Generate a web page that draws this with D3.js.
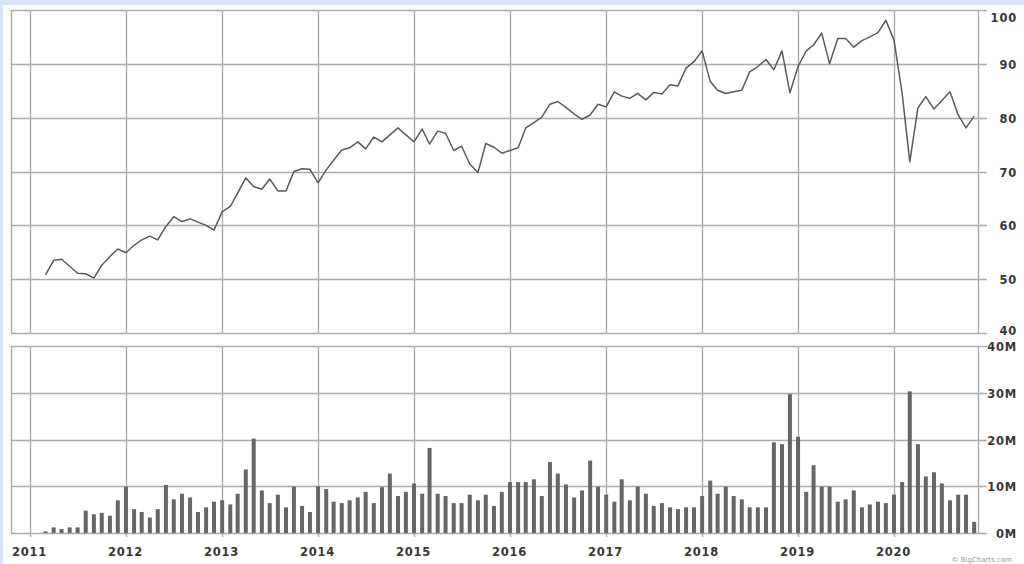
<!DOCTYPE html>
<html>
<head>
<meta charset="utf-8">
<script src="https://cdn.jsdelivr.net/npm/d3@7"></script>
<style>
  html, body { margin: 0; padding: 0; background: #ffffff; }
  svg { display: block; }
  text { font-family: "DejaVu Sans", Verdana, sans-serif; }
</style>
</head>
<body>
<svg id="chart" width="1024" height="564"></svg>
<script>
// ---------- DATA ----------
const startYear = 2011, startMonth = 2; // March 2011 (0-based month)
const priceValues = [
  // 2011 Mar-Dec
  50.8, 53.5, 53.7, 52.4, 51.1, 51.0, 50.2, 52.6, 54.2, 55.6,
  // 2012
  54.9, 56.3, 57.3, 58.0, 57.3, 59.8, 61.6, 60.7, 61.2, 60.6, 60.0, 59.1,
  // 2013
  62.5, 63.5, 66.0, 68.8, 67.2, 66.7, 68.6, 66.4, 66.4, 70.0, 70.5, 70.4,
  // 2014
  67.9, 70.3, 72.1, 74.0, 74.4, 75.5, 74.2, 76.4, 75.5, 76.8, 78.1, 76.8,
  // 2015
  75.5, 77.9, 75.1, 77.5, 77.1, 73.9, 74.7, 71.4, 69.8, 75.2, 74.5, 73.4,
  // 2016
  73.9, 74.4, 78.1, 79.1, 80.1, 82.5, 83.0, 81.9, 80.7, 79.7, 80.5, 82.5,
  // 2017
  82.0, 84.8, 84.0, 83.6, 84.5, 83.3, 84.7, 84.4, 86.1, 85.9, 89.2, 90.4,
  // 2018
  92.4, 86.7, 85.1, 84.5, 84.8, 85.1, 88.5, 89.5, 90.8, 88.9, 92.4, 84.6,
  // 2019
  89.5, 92.4, 93.5, 95.7, 90.0, 94.7, 94.7, 93.1, 94.3, 95.0, 95.8, 98.1,
  // 2020 Jan-Nov
  94.4, 84.5, 71.8, 81.8, 83.9, 81.6, 83.2, 84.8, 80.5, 78.1, 80.3
];
const volumeValues = [ // millions
  // 2011 Mar-Dec
  0.35, 1.2, 0.85, 1.2, 1.2, 4.8, 4.0, 4.3, 3.7, 7.0,
  // 2012
  9.9, 5.1, 4.5, 3.3, 5.1, 10.3, 7.2, 8.4, 7.6, 4.5, 5.5, 6.7,
  // 2013
  7.0, 6.1, 8.4, 13.6, 20.2, 9.1, 6.4, 8.2, 5.5, 9.9, 5.8, 4.5,
  // 2014
  10.0, 9.4, 6.7, 6.4, 7.0, 7.6, 8.8, 6.4, 9.8, 12.7, 7.9, 8.8,
  // 2015
  10.6, 8.4, 18.2, 8.4, 7.9, 6.4, 6.4, 8.2, 7.0, 8.2, 5.8, 8.8,
  // 2016
  10.9, 10.9, 10.9, 11.5, 7.9, 15.2, 12.7, 10.4, 7.6, 9.1, 15.5, 9.9,
  // 2017
  8.2, 6.7, 11.5, 7.0, 9.9, 8.4, 5.8, 6.4, 5.5, 5.1, 5.5, 5.5,
  // 2018
  7.9, 11.2, 8.4, 9.9, 7.9, 7.2, 5.5, 5.5, 5.5, 19.4, 19.0, 29.7,
  // 2019
  20.6, 8.8, 14.5, 9.9, 9.9, 6.7, 7.2, 9.1, 5.5, 6.1, 6.7, 6.4,
  // 2020 Jan-Nov
  8.2, 10.9, 30.3, 19.0, 12.1, 13.0, 10.6, 7.0, 8.2, 8.2, 2.4
];
const yearTicks = [2011, 2012, 2013, 2014, 2015, 2016, 2017, 2018, 2019, 2020];
const priceTicks = [40, 50, 60, 70, 80, 90, 100];
const volumeTicks = [0, 10, 20, 30, 40];
const volumeTickLabels = ["0M", "10M", "20M", "30M", "40M"];
const copyrightText = "© BigCharts.com";

const dates = priceValues.map((_, i) => new Date(startYear, startMonth + i, 1));

// ---------- LAYOUT ----------
const svg = d3.select("#chart");
const W = 1024, H = 564;
const plotLeft = 11, plotRight = 978, tickEnd = 987, labelRight = 1017;
const top1 = 10, bottom1 = 333, top2 = 346, bottom2 = 533;
const gridColor = "#ababab", textColor = "#383838";

// frame strips
svg.append("rect").attr("x", 0).attr("y", 0).attr("width", W).attr("height", 5).attr("fill", "#d8e5f7");
svg.append("rect").attr("x", 0).attr("y", 0).attr("width", 3).attr("height", H).attr("fill", "#d8e5f7");

const x = d3.scaleTime()
  .domain([new Date(2011, 0, 1), new Date(2020, 0, 1)])
  .range([30, 894]);
const yP = d3.scaleLinear().domain([40, 100]).range([bottom1, top1]);
const yV = d3.scaleLinear().domain([0, 40]).range([bottom2, top2]);

const g = svg.append("g");

// vertical year gridlines
yearTicks.forEach(yr => {
  const xx = Math.round(x(new Date(yr, 0, 1))) + 0.5;
  g.append("line").attr("x1", xx).attr("x2", xx).attr("y1", top1).attr("y2", bottom1)
    .attr("stroke", gridColor).attr("stroke-width", 1.4);
  g.append("line").attr("x1", xx).attr("x2", xx).attr("y1", top2).attr("y2", bottom2 + 4)
    .attr("stroke", gridColor).attr("stroke-width", 1.4);
  g.append("text").attr("x", xx - 1).attr("y", 556).attr("text-anchor", "middle")
    .attr("font-size", 11.5).attr("font-weight", "bold").attr("letter-spacing", 0.8)
    .attr("fill", textColor).text(yr);
});

// horizontal price gridlines + labels
priceTicks.forEach(v => {
  const yy = Math.round(yP(v)) + 0.5;
  g.append("line").attr("x1", plotLeft).attr("x2", tickEnd).attr("y1", yy).attr("y2", yy)
    .attr("stroke", gridColor).attr("stroke-width", 1.4);
  let ly = yy + 4;
  if (v === 100) ly = yy + 11;
  if (v === 40) ly = yy + 1;
  g.append("text").attr("x", labelRight).attr("y", ly).attr("text-anchor", "end")
    .attr("font-size", 11.5).attr("font-weight", "bold").attr("letter-spacing", 0.8)
    .attr("fill", textColor).text(v);
});

// horizontal volume gridlines + labels
volumeTicks.forEach((v, i) => {
  const yy = Math.round(yV(v)) + 0.5;
  g.append("line").attr("x1", plotLeft).attr("x2", tickEnd).attr("y1", yy).attr("y2", yy)
    .attr("stroke", gridColor).attr("stroke-width", 1.4);
  g.append("text").attr("x", labelRight).attr("y", yy + 4).attr("text-anchor", "end")
    .attr("font-size", 11.5).attr("font-weight", "bold").attr("letter-spacing", 0.8)
    .attr("fill", textColor).text(volumeTickLabels[i]);
});

// panel side borders
[[top1, bottom1], [top2, bottom2]].forEach(([a, b]) => {
  [plotLeft + 0.5, plotRight + 0.5].forEach(xx => {
    g.append("line").attr("x1", xx).attr("x2", xx).attr("y1", a).attr("y2", b)
      .attr("stroke", gridColor).attr("stroke-width", 1.4);
  });
});

// volume bars
g.selectAll("rect.vol").data(volumeValues).join("rect")
  .attr("class", "vol")
  .attr("x", (d, i) => x(dates[i]) - 2)
  .attr("width", 4)
  .attr("y", d => yV(d))
  .attr("height", d => yV(0) - yV(d))
  .attr("fill", "#666666");

// price line
const line = d3.line().x((d, i) => x(dates[i])).y(d => yP(d));
g.append("path").datum(priceValues)
  .attr("d", line).attr("fill", "none")
  .attr("stroke", "#5a5a5a").attr("stroke-width", 1.5).attr("stroke-linejoin", "round");

// copyright
svg.append("text").attr("x", 1012).attr("y", 562).attr("text-anchor", "end")
  .attr("font-size", 7).attr("fill", "#999").text(copyrightText);
</script>
</body>
</html>
